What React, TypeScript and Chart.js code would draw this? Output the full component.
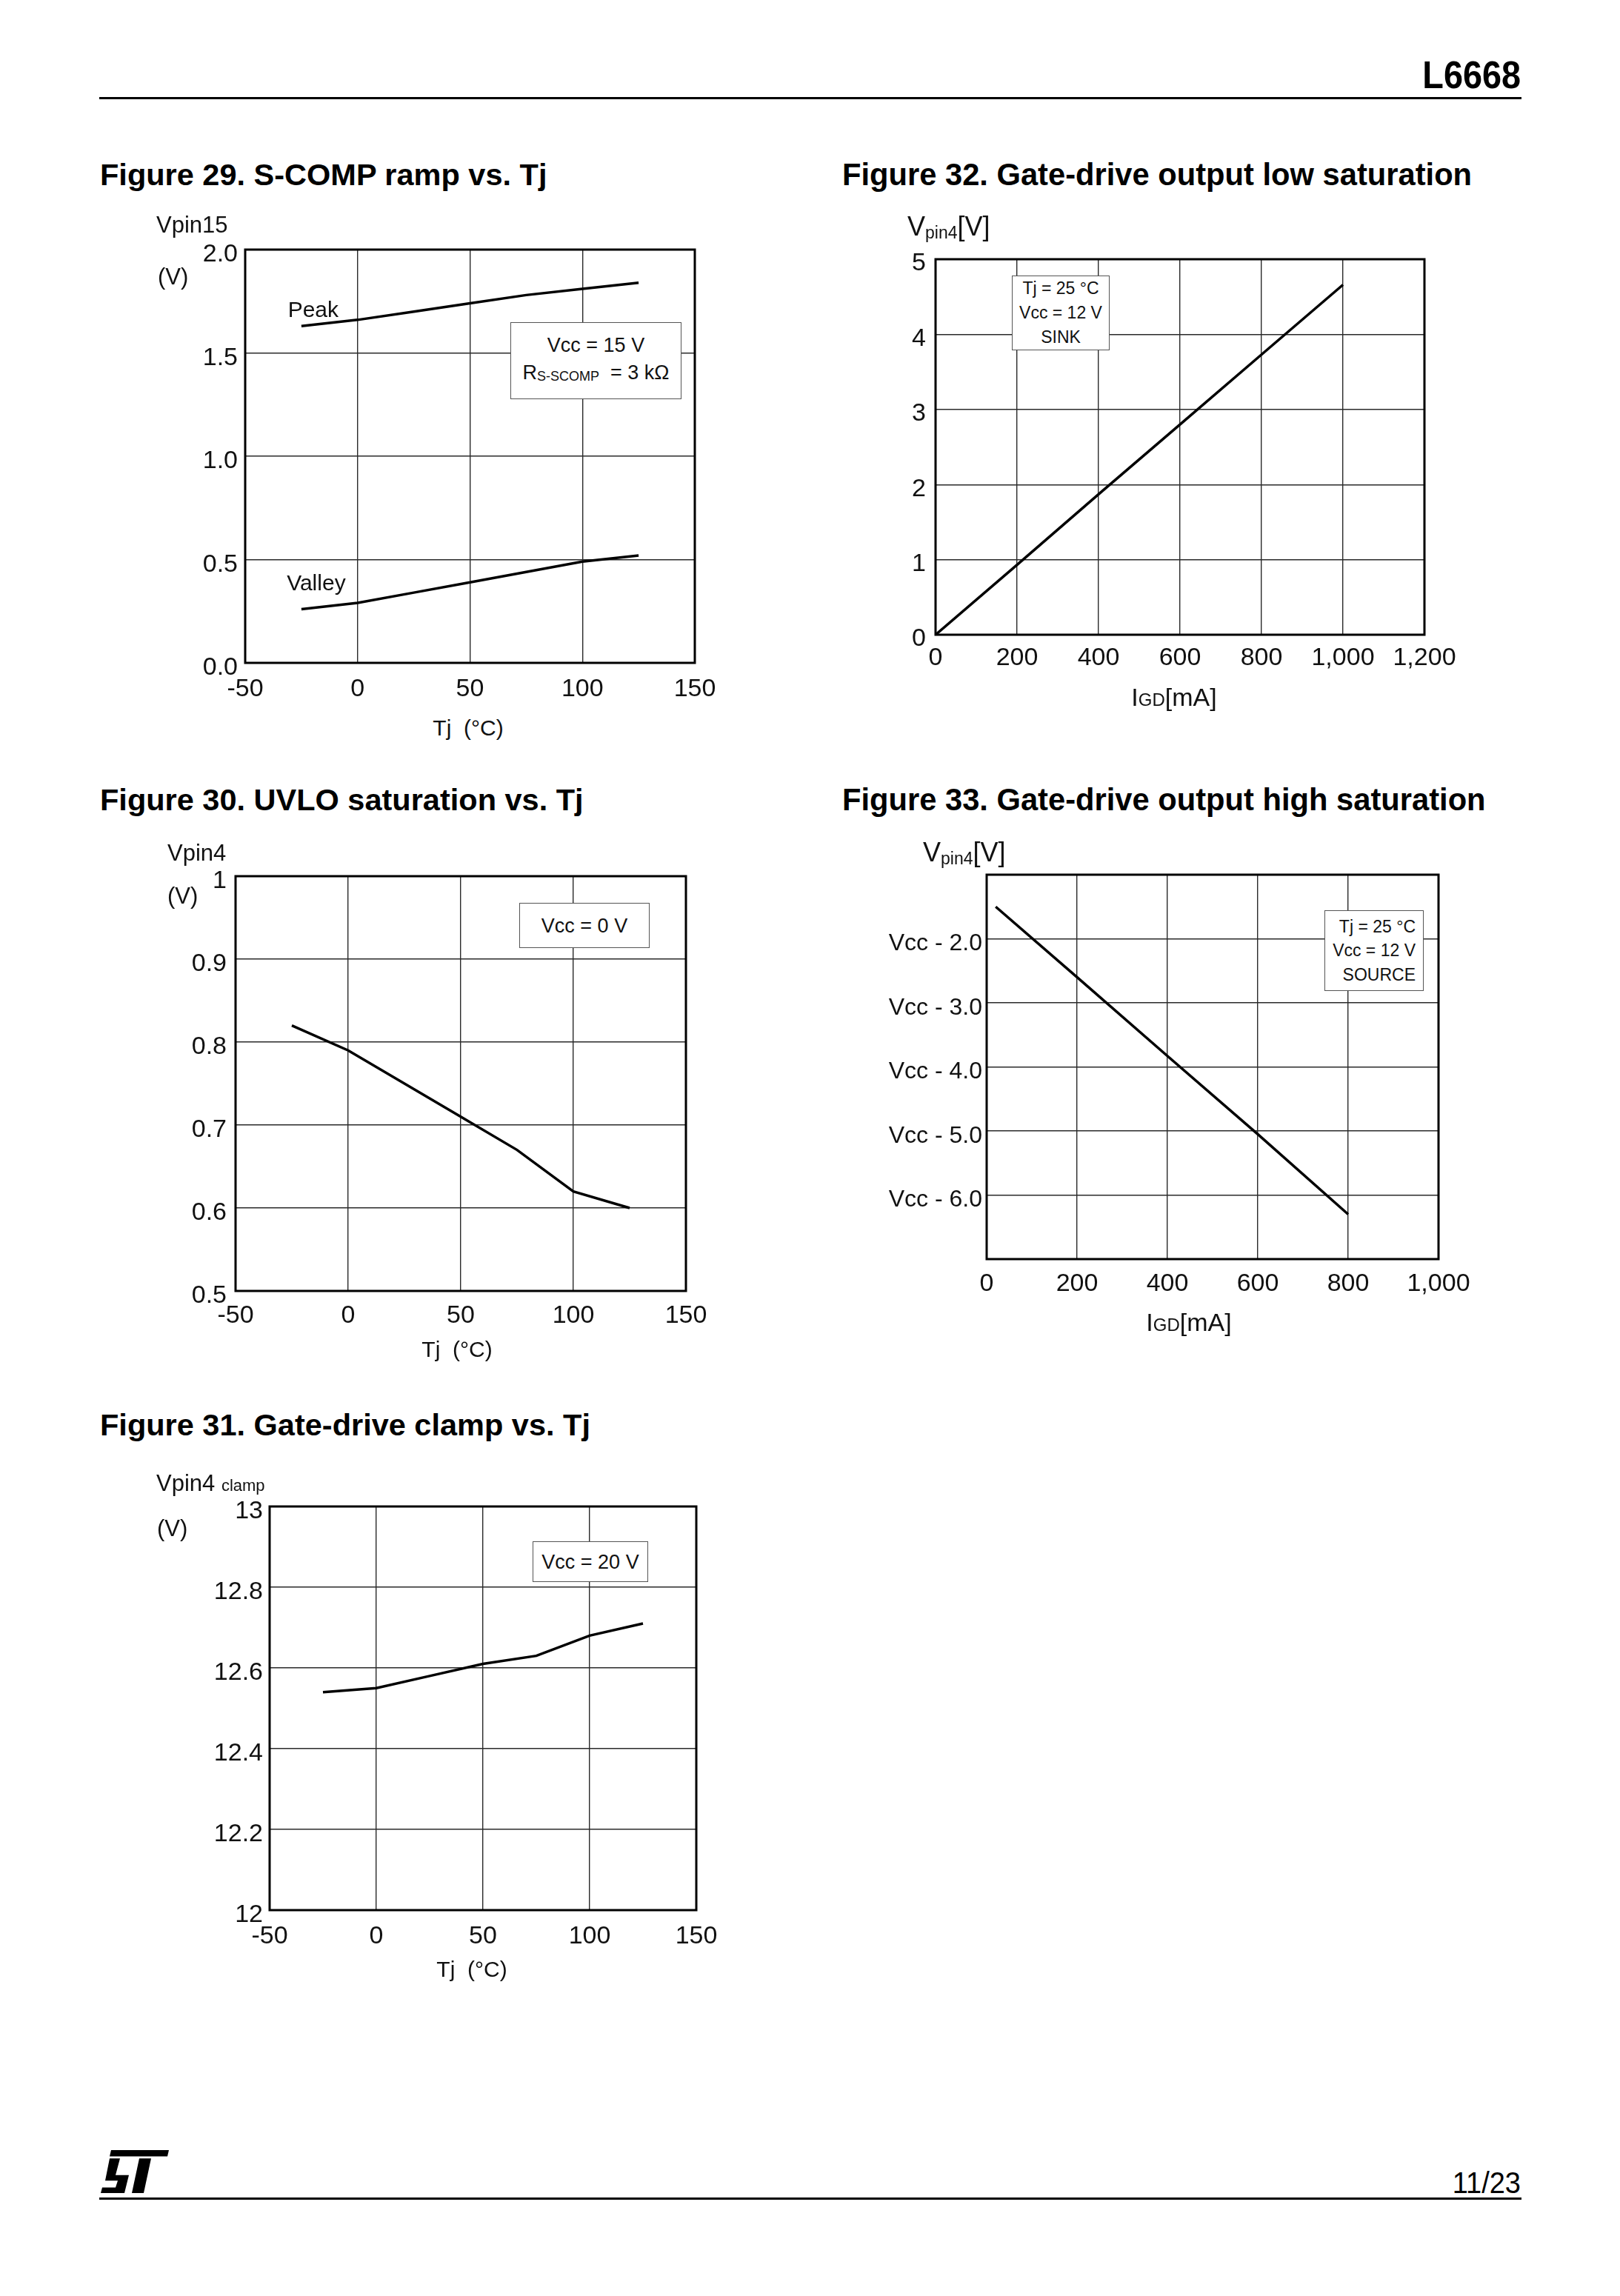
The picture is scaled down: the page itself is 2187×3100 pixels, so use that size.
import React, { useEffect, useRef } from "react";
import { Chart, registerables } from "chart.js";

Chart.register(...registerables);

const FONT = '"Liberation Sans", Arial, Helvetica, sans-serif';

// ---------- data ----------
// shared temperature axis (Figures 29, 30, 31)
const tjTickLabels = ["-50", "0", "50", "100", "150"];
const tjPoints = [-25, 0, 25, 50, 75, 100, 125];

// Figure 29: S-COMP ramp vs Tj
const scompPeak = [1.63, 1.66, 1.7, 1.74, 1.78, 1.81, 1.84];
const scompValley = [0.26, 0.29, 0.34, 0.39, 0.44, 0.49, 0.52];
const scompYTicks = ["0.0", "0.5", "1.0", "1.5", "2.0"];

// Figure 30: UVLO saturation vs Tj
const uvloSat = [0.82, 0.79, 0.75, 0.71, 0.67, 0.62, 0.6];
const uvloYTicks = ["0.5", "0.6", "0.7", "0.8", "0.9", "1"];

// Figure 31: Gate-drive clamp vs Tj
const clampV = [12.54, 12.55, 12.58, 12.61, 12.63, 12.68, 12.71];
const clampYTicks = ["12", "12.2", "12.4", "12.6", "12.8", "13"];

// Figure 32: Gate-drive output low saturation (sink)
const sinkCurrent = [0, 200, 400, 600, 800, 1000];
const sinkVoltage = [0, 0.93, 1.87, 2.8, 3.73, 4.66];
const sinkXTicks = ["0", "200", "400", "600", "800", "1,000", "1,200"];
const sinkYTicks = ["0", "1", "2", "3", "4", "5"];

// Figure 33: Gate-drive output high saturation (source), values relative to Vcc
const sourceCurrent = [20, 200, 400, 600, 800];
const sourceDrop = [-1.5, -2.6, -3.83, -5.05, -6.3];
const sourceXTicks = ["0", "200", "400", "600", "800", "1,000"];
const sourceYTicks = ["", "Vcc - 6.0", "Vcc - 5.0", "Vcc - 4.0", "Vcc - 3.0", "Vcc - 2.0", ""];

// ---------- helpers ----------
type Note = { x: number; y: number; text: string };
type AxisSpec = {
  min: number;
  max: number;
  step: number;
  labels: string[];
  pad: number;
  offset: number;
  size?: number;
};
type Spec = {
  plot: [number, number, number, number];
  yw: number;
  pt: number;
  pr: number;
  xh: number;
  x: AxisSpec;
  y: AxisSpec;
  series: { xs: number[]; ys: number[] }[];
  notes?: Note[];
};

function zip(xs: number[], ys: number[]) {
  return xs.map((x, i) => ({ x, y: ys[i] }));
}

function makeAxis(a: AxisSpec, fit: (s: any) => void) {
  return {
    type: "linear" as const,
    min: a.min,
    max: a.max,
    ticks: {
      stepSize: a.step,
      autoSkip: false,
      maxRotation: 0,
      minRotation: 0,
      padding: a.pad,
      labelOffset: a.offset,
      color: "#111",
      font: { family: FONT, size: a.size ?? 34 },
      callback: (_v: any, i: number) => a.labels[i] ?? "",
    },
    grid: { color: "#2a2a2a", lineWidth: 1.4, drawTicks: false },
    border: { display: false },
    afterFit: fit,
  };
}

function framePlugin(notes: Note[]) {
  return {
    id: "frameNotes",
    afterDraw(chart: any) {
      const { ctx, chartArea: a } = chart;
      ctx.save();
      ctx.strokeStyle = "#000";
      ctx.lineWidth = 3;
      ctx.strokeRect(a.left, a.top, a.right - a.left, a.bottom - a.top);
      ctx.fillStyle = "#111";
      ctx.font = `30px ${FONT}`;
      ctx.textAlign = "left";
      ctx.textBaseline = "middle";
      for (const n of notes) {
        ctx.fillText(n.text, chart.scales.x.getPixelForValue(n.x), chart.scales.y.getPixelForValue(n.y));
      }
      ctx.restore();
    },
  };
}

function PlotCanvas({ spec }: { spec: Spec }) {
  const ref = useRef<HTMLCanvasElement>(null);
  const [L, T, R, B] = spec.plot;
  const left = L - spec.yw;
  const top = T - spec.pt;
  const width = R - left + spec.pr;
  const height = B - top + spec.xh;

  useEffect(() => {
    if (!ref.current) return;
    const chart = new Chart(ref.current, {
      type: "line",
      data: {
        datasets: spec.series.map((s) => ({
          data: zip(s.xs, s.ys),
          borderColor: "#000",
          borderWidth: 3.5,
          pointRadius: 0,
          fill: false,
          tension: 0,
        })),
      },
      options: {
        animation: false,
        responsive: false,
        devicePixelRatio: 1,
        events: [],
        layout: { padding: { top: spec.pt, right: spec.pr, left: 0, bottom: 0 } },
        plugins: { legend: { display: false }, tooltip: { enabled: false }, title: { display: false } },
        scales: {
          x: makeAxis(spec.x, (s: any) => {
            s.height = spec.xh;
          }),
          y: makeAxis(spec.y, (s: any) => {
            s.width = spec.yw;
          }),
        },
      } as any,
      plugins: [framePlugin(spec.notes ?? [])],
    });
    return () => chart.destroy();
  }, []);

  return (
    <canvas
      ref={ref}
      width={width}
      height={height}
      style={{ position: "absolute", left, top, width, height }}
    />
  );
}

function Txt(props: {
  x: number;
  y: number;
  size: number;
  align?: "left" | "center" | "right";
  bold?: boolean;
  style?: React.CSSProperties;
  children: React.ReactNode;
}) {
  const { x, y, size, align = "left", bold = false, style, children } = props;
  const tx = align === "left" ? "0" : align === "center" ? "-50%" : "-100%";
  return (
    <div
      style={{
        position: "absolute",
        left: x,
        top: y,
        transform: `translate(${tx}, -50%)`,
        fontSize: size,
        fontWeight: bold ? 700 : 400,
        lineHeight: 1,
        whiteSpace: "nowrap",
        color: "#111",
        ...style,
      }}
    >
      {children}
    </div>
  );
}

function Box(props: {
  x: number;
  y: number;
  w: number;
  h: number;
  size: number;
  lh: number;
  align?: "center" | "right";
  lines: React.ReactNode[];
}) {
  const { x, y, w, h, size, lh, align = "center", lines } = props;
  return (
    <div
      style={{
        position: "absolute",
        left: x,
        top: y,
        width: w,
        height: h,
        boxSizing: "border-box",
        border: "1.5px solid #555",
        background: "#fff",
        display: "flex",
        flexDirection: "column",
        justifyContent: "center",
        alignItems: align === "center" ? "center" : "flex-end",
        paddingRight: align === "right" ? 10 : 0,
        fontSize: size,
        lineHeight: `${lh}px`,
        color: "#111",
        whiteSpace: "nowrap",
      }}
    >
      {lines.map((l, i) => (
        <div key={i}>{l}</div>
      ))}
    </div>
  );
}

const tjX = (pad: number): AxisSpec => ({ min: -50, max: 150, step: 50, labels: tjTickLabels, pad, offset: 0 });

const fig29: Spec = {
  plot: [331, 337, 938, 895],
  yw: 130,
  pt: 50,
  pr: 60,
  xh: 70,
  x: tjX(15),
  y: { min: 0, max: 2, step: 0.5, labels: scompYTicks, pad: 10, offset: 7 },
  series: [
    { xs: tjPoints, ys: scompPeak },
    { xs: tjPoints, ys: scompValley },
  ],
  notes: [
    { x: -31, y: 1.705, text: "Peak" },
    { x: -31.5, y: 0.38, text: "Valley" },
  ],
};

const fig30: Spec = {
  plot: [318, 1183, 926, 1743],
  yw: 130,
  pt: 50,
  pr: 60,
  xh: 70,
  x: tjX(13),
  y: { min: 0.5, max: 1, step: 0.1, labels: uvloYTicks, pad: 12, offset: 7 },
  series: [{ xs: tjPoints, ys: uvloSat }],
};

const fig31: Spec = {
  plot: [364, 2034, 940, 2579],
  yw: 130,
  pt: 50,
  pr: 60,
  xh: 70,
  x: tjX(15),
  y: { min: 12, max: 13, step: 0.2, labels: clampYTicks, pad: 9, offset: 7 },
  series: [{ xs: tjPoints, ys: clampV }],
};

const fig32: Spec = {
  plot: [1263, 350, 1923, 857],
  yw: 80,
  pt: 40,
  pr: 80,
  xh: 70,
  x: { min: 0, max: 1200, step: 200, labels: sinkXTicks, pad: 11, offset: 0 },
  y: { min: 0, max: 5, step: 1, labels: sinkYTicks, pad: 13, offset: 6 },
  series: [{ xs: sinkCurrent, ys: sinkVoltage }],
};

const fig33: Spec = {
  plot: [1332, 1181, 1942, 1700],
  yw: 170,
  pt: 40,
  pr: 70,
  xh: 70,
  x: { min: 0, max: 1000, step: 200, labels: sourceXTicks, pad: 13, offset: 0 },
  y: { min: -7, max: -1, step: 1, labels: sourceYTicks, pad: 6, offset: 7, size: 32 },
  series: [{ xs: sourceCurrent, ys: sourceDrop }],
};

const sub = (t: string, size: number, drop = "-0.12em") => (
  <span style={{ fontSize: size, verticalAlign: drop }}>{t}</span>
);

export default function App() {
  return (
    <div
      style={{
        position: "absolute",
        left: 0,
        top: 0,
        width: 2187,
        height: 3100,
        background: "#fff",
        fontFamily: FONT,
        overflow: "hidden",
      }}
    >
      {/* header */}
      <Txt x={2053} y={101} size={52} bold align="right" style={{ transformOrigin: "right center", transform: "translate(-100%, -50%) scaleX(0.9)", color: "#000" }}>
        L6668
      </Txt>
      <div style={{ position: "absolute", left: 134, top: 131, width: 1920, height: 3, background: "#000" }} />

      {/* titles */}
      <Txt x={135} y={236} size={41.5} bold style={{ color: "#000" }}>Figure 29. S-COMP ramp vs. Tj</Txt>
      <Txt x={1137} y={236} size={41.7} bold style={{ color: "#000" }}>Figure 32. Gate-drive output low saturation</Txt>
      <Txt x={135} y={1080} size={41.5} bold style={{ color: "#000" }}>Figure 30. UVLO saturation vs. Tj</Txt>
      <Txt x={1137} y={1080} size={41.7} bold style={{ color: "#000" }}>Figure 33. Gate-drive output high saturation</Txt>
      <Txt x={135} y={1924} size={41.5} bold style={{ color: "#000" }}>Figure 31. Gate-drive clamp vs. Tj</Txt>

      {/* charts */}
      <PlotCanvas spec={fig29} />
      <PlotCanvas spec={fig30} />
      <PlotCanvas spec={fig31} />
      <PlotCanvas spec={fig32} />
      <PlotCanvas spec={fig33} />

      {/* Figure 29 labels */}
      <Txt x={211} y={303} size={31}>Vpin15</Txt>
      <Txt x={213} y={373} size={31}>(V)</Txt>
      <Txt x={632} y={983} size={30} align="center">Tj&nbsp;&nbsp;(°C)</Txt>
      <Box
        x={689}
        y={435}
        w={231}
        h={104}
        size={27}
        lh={37}
        lines={[
          <>Vcc = 15 V</>,
          <>R{sub("S-SCOMP", 18, "-0.1em")}&nbsp; = 3 kΩ</>,
        ]}
      />

      {/* Figure 30 labels */}
      <Txt x={226} y={1151} size={31}>Vpin4</Txt>
      <Txt x={226} y={1209} size={31}>(V)</Txt>
      <Txt x={617} y={1822} size={30} align="center">Tj&nbsp;&nbsp;(°C)</Txt>
      <Box x={701} y={1219} w={176} h={61} size={27} lh={34} lines={[<>Vcc = 0 V</>]} />

      {/* Figure 31 labels */}
      <Txt x={211} y={2002} size={31}>Vpin4 {sub("clamp", 22, "0")}</Txt>
      <Txt x={212} y={2063} size={31}>(V)</Txt>
      <Txt x={637} y={2659} size={30} align="center">Tj&nbsp;&nbsp;(°C)</Txt>
      <Box x={719} y={2081} w={156} h={55} size={27} lh={34} lines={[<>Vcc = 20 V</>]} />

      {/* Figure 32 labels */}
      <Txt x={1225} y={307} size={36}>V{sub("pin4", 23, "-0.2em")}[V]</Txt>
      <Txt x={1585} y={941} size={34} align="center">I{sub("GD", 24, "0")}[mA]</Txt>
      <Box
        x={1366}
        y={372}
        w={132}
        h={101}
        size={23}
        lh={33}
        lines={[<>Tj = 25 °C</>, <>Vcc = 12 V</>, <>SINK</>]}
      />

      {/* Figure 33 labels */}
      <Txt x={1246} y={1152} size={36}>V{sub("pin4", 23, "-0.2em")}[V]</Txt>
      <Txt x={1605} y={1785} size={34} align="center">I{sub("GD", 24, "0")}[mA]</Txt>
      <Box
        x={1788}
        y={1229}
        w={134}
        h={109}
        size={23}
        lh={32.5}
        align="right"
        lines={[<>Tj = 25 °C</>, <>Vcc = 12 V</>, <>SOURCE</>]}
      />

      {/* footer */}
      <svg
        style={{ position: "absolute", left: 136, top: 2903, width: 92, height: 58 }}
        viewBox="0 0 92 62"
        preserveAspectRatio="none"
      >
        <polygon points="14,0 92,0 90,9 12,9" fill="#000" />
        <polygon points="12,12 26,12 20,36 38,36 32,62 0,62 2,54 20,54 23,44 6,44" fill="#000" />
        <polygon points="52,12 68,12 58,62 42,62" fill="#000" />
      </svg>
      <Txt x={2053} y={2947} size={40} align="right" style={{ transformOrigin: "right center", transform: "translate(-100%, -50%) scaleX(0.95)", color: "#000" }}>
        11/23
      </Txt>
      <div style={{ position: "absolute", left: 134, top: 2967, width: 1920, height: 3, background: "#000" }} />
    </div>
  );
}
